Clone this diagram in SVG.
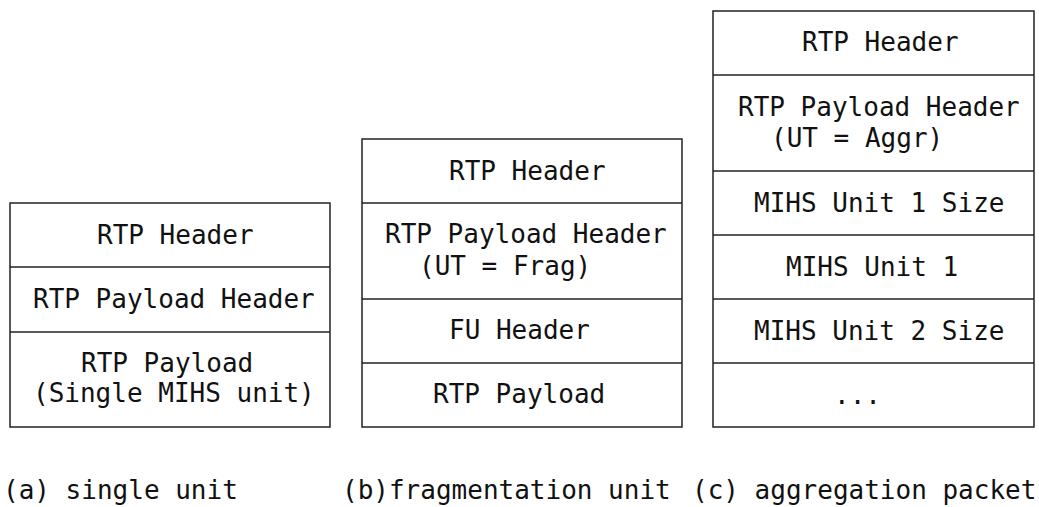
<svg xmlns="http://www.w3.org/2000/svg" width="1039" height="507" viewBox="0 0 1039 507">
<style>
.box{fill:#fff;stroke:#222;stroke-width:1.5}
line{stroke:#222;stroke-width:1.5}
text{font-family:"DejaVu Sans Mono","Liberation Mono",monospace;font-size:26px;fill:#111;white-space:pre}
</style>
<rect width="1039" height="507" fill="#fff"/>
<g id="packet-a">
<rect class="box" x="10" y="203" width="320" height="224"/>
<line x1="10" y1="267" x2="330" y2="267"/>
<line x1="10" y1="332" x2="330" y2="332"/>
<text x="97" y="244">RTP Header</text>
<text x="33" y="308">RTP Payload Header</text>
<text x="81" y="372">RTP Payload</text>
<text x="33" y="402">(Single MIHS unit)</text>
</g>
<g id="packet-b">
<rect class="box" x="362" y="139" width="320" height="288"/>
<line x1="362" y1="203" x2="682" y2="203"/>
<line x1="362" y1="299" x2="682" y2="299"/>
<line x1="362" y1="363" x2="682" y2="363"/>
<text x="449" y="180">RTP Header</text>
<text x="385" y="243">RTP Payload Header</text>
<text x="419" y="275">(UT = Frag)</text>
<text x="449" y="339">FU Header</text>
<text x="433" y="403">RTP Payload</text>
</g>
<g id="packet-c">
<rect class="box" x="713" y="11" width="321" height="416"/>
<line x1="713" y1="75" x2="1034" y2="75"/>
<line x1="713" y1="171" x2="1034" y2="171"/>
<line x1="713" y1="235" x2="1034" y2="235"/>
<line x1="713" y1="299" x2="1034" y2="299"/>
<line x1="713" y1="363" x2="1034" y2="363"/>
<text x="802" y="51">RTP Header</text>
<text x="738" y="116">RTP Payload Header</text>
<text x="771" y="147">(UT = Aggr)</text>
<text x="754" y="212">MIHS Unit 1 Size</text>
<text x="786" y="276">MIHS Unit 1</text>
<text x="754" y="340">MIHS Unit 2 Size</text>
<text x="834" y="404">...</text>
</g>
<g id="connectors"></g>
<g id="captions">
<text x="3" y="499">(a) single unit</text>
<text x="342" y="499">(b)fragmentation unit</text>
<text x="692" y="499">(c) aggregation packet</text>
</g>
</svg>
